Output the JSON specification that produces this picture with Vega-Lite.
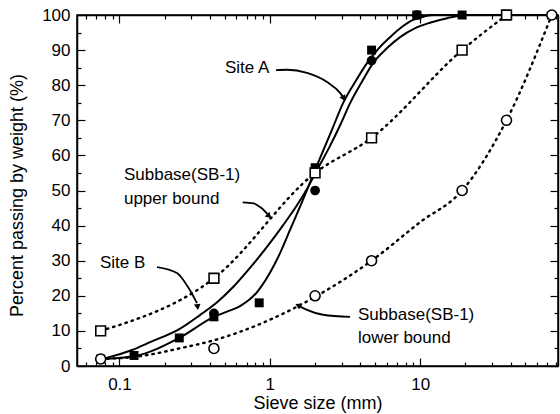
{
  "$schema": "https://vega.github.io/schema/vega-lite/v6.json",
  "width": 481,
  "height": 351,
  "autosize": {"type": "none"},
  "padding": {"left": 77, "top": 15, "right": 2, "bottom": 48},
  "background": "white",
  "config": {
    "view": {"stroke": "black", "strokeWidth": 1.5},
    "axis": {"domainColor": "black", "domainWidth": 1.5, "tickColor": "black", "tickWidth": 1.2, "labelColor": "black", "titleColor": "black", "labelFont": "Liberation Sans", "titleFont": "Liberation Sans", "labelFontSize": 17, "titleFontSize": 18, "titleFontWeight": "normal", "grid": false},
    "text": {"font": "Liberation Sans"}
  },
  "datasets": {
    "curves": [
      {"series": "Upper", "x": 0.075, "y": 10}, {"series": "Upper", "x": 0.425, "y": 25}, {"series": "Upper", "x": 2, "y": 55}, {"series": "Upper", "x": 4.75, "y": 65}, {"series": "Upper", "x": 19, "y": 90}, {"series": "Upper", "x": 37.5, "y": 100},
      {"series": "Lower", "x": 0.075, "y": 2}, {"series": "Lower", "x": 0.137, "y": 2.8}, {"series": "Lower", "x": 0.25, "y": 5}, {"series": "Lower", "x": 0.43, "y": 7.4}, {"series": "Lower", "x": 0.98, "y": 13}, {"series": "Lower", "x": 2, "y": 19.7}, {"series": "Lower", "x": 4.75, "y": 30}, {"series": "Lower", "x": 10, "y": 41}, {"series": "Lower", "x": 19, "y": 50}, {"series": "Lower", "x": 37.5, "y": 70}, {"series": "Lower", "x": 75, "y": 100},
      {"series": "Site A", "x": 0.075, "y": 2}, {"series": "Site A", "x": 0.125, "y": 2.8}, {"series": "Site A", "x": 0.25, "y": 8}, {"series": "Site A", "x": 0.425, "y": 14}, {"series": "Site A", "x": 0.52, "y": 15.5}, {"series": "Site A", "x": 0.63, "y": 17}, {"series": "Site A", "x": 0.82, "y": 21}, {"series": "Site A", "x": 1.0, "y": 26.5}, {"series": "Site A", "x": 1.18, "y": 32.5}, {"series": "Site A", "x": 1.36, "y": 38.7}, {"series": "Site A", "x": 1.66, "y": 47.3}, {"series": "Site A", "x": 1.9, "y": 53.5}, {"series": "Site A", "x": 2.22, "y": 60.5}, {"series": "Site A", "x": 2.6, "y": 67.5}, {"series": "Site A", "x": 3.07, "y": 74.9}, {"series": "Site A", "x": 3.7, "y": 81}, {"series": "Site A", "x": 4.43, "y": 86.3}, {"series": "Site A", "x": 5.3, "y": 90.5}, {"series": "Site A", "x": 6.31, "y": 93.7}, {"series": "Site A", "x": 7.5, "y": 96.5}, {"series": "Site A", "x": 8.97, "y": 98.6}, {"series": "Site A", "x": 10.5, "y": 99.5}, {"series": "Site A", "x": 12.2, "y": 100}, {"series": "Site A", "x": 82.5, "y": 100},
      {"series": "Site B", "x": 0.075, "y": 2}, {"series": "Site B", "x": 0.0865, "y": 2.6}, {"series": "Site B", "x": 0.12, "y": 4.5}, {"series": "Site B", "x": 0.16, "y": 6.8}, {"series": "Site B", "x": 0.25, "y": 10.5}, {"series": "Site B", "x": 0.343, "y": 14.5}, {"series": "Site B", "x": 0.45, "y": 18.3}, {"series": "Site B", "x": 0.57, "y": 22.5}, {"series": "Site B", "x": 0.75, "y": 28.3}, {"series": "Site B", "x": 0.96, "y": 34}, {"series": "Site B", "x": 1.22, "y": 40}, {"series": "Site B", "x": 1.5, "y": 45.5}, {"series": "Site B", "x": 1.77, "y": 50.5}, {"series": "Site B", "x": 2.1, "y": 56.5}, {"series": "Site B", "x": 2.5, "y": 62.5}, {"series": "Site B", "x": 2.95, "y": 68.8}, {"series": "Site B", "x": 3.42, "y": 74.9}, {"series": "Site B", "x": 4.1, "y": 81}, {"series": "Site B", "x": 4.86, "y": 86.3}, {"series": "Site B", "x": 6, "y": 90.5}, {"series": "Site B", "x": 7.35, "y": 93.7}, {"series": "Site B", "x": 9.2, "y": 96.2}, {"series": "Site B", "x": 11.6, "y": 97.8}, {"series": "Site B", "x": 15.1, "y": 99.1}, {"series": "Site B", "x": 20.5, "y": 100}, {"series": "Site B", "x": 82.5, "y": 100}
    ],
    "points": [
      {"series": "Site A", "x": 0.075, "y": 2}, {"series": "Site A", "x": 0.125, "y": 3}, {"series": "Site A", "x": 0.25, "y": 8}, {"series": "Site A", "x": 0.425, "y": 14}, {"series": "Site A", "x": 0.85, "y": 18}, {"series": "Site A", "x": 2, "y": 56.5}, {"series": "Site A", "x": 4.75, "y": 90}, {"series": "Site A", "x": 9.5, "y": 100}, {"series": "Site A", "x": 19, "y": 100},
      {"series": "Site B", "x": 0.075, "y": 2}, {"series": "Site B", "x": 0.425, "y": 15}, {"series": "Site B", "x": 2, "y": 50}, {"series": "Site B", "x": 4.75, "y": 87}, {"series": "Site B", "x": 9.5, "y": 100},
      {"series": "Upper", "x": 0.075, "y": 10}, {"series": "Upper", "x": 0.425, "y": 25}, {"series": "Upper", "x": 2, "y": 55}, {"series": "Upper", "x": 4.75, "y": 65}, {"series": "Upper", "x": 19, "y": 90}, {"series": "Upper", "x": 37.5, "y": 100},
      {"series": "Lower", "x": 0.075, "y": 2}, {"series": "Lower", "x": 0.425, "y": 5}, {"series": "Lower", "x": 2, "y": 20}, {"series": "Lower", "x": 4.75, "y": 30}, {"series": "Lower", "x": 19, "y": 50}, {"series": "Lower", "x": 37.5, "y": 70}, {"series": "Lower", "x": 75, "y": 100}
    ],
    "arrows": [
      {"arrow": "A", "x": 1.1, "y": 84.3}, {"arrow": "A", "x": 1.3, "y": 84.4}, {"arrow": "A", "x": 1.768, "y": 83.5}, {"arrow": "A", "x": 2.402, "y": 80.9}, {"arrow": "A", "x": 2.93, "y": 77.8}, {"arrow": "A", "x": 3.08, "y": 76.5},
      {"arrow": "U", "x": 0.66, "y": 46.6}, {"arrow": "U", "x": 0.78, "y": 46.3}, {"arrow": "U", "x": 0.88, "y": 45.0}, {"arrow": "U", "x": 0.97, "y": 43.2},
      {"arrow": "B", "x": 0.1776, "y": 28.2}, {"arrow": "B", "x": 0.2413, "y": 26.5}, {"arrow": "B", "x": 0.2856, "y": 22.5}, {"arrow": "B", "x": 0.3279, "y": 17.9},
      {"arrow": "L", "x": 1.58, "y": 17.0}, {"arrow": "L", "x": 1.768, "y": 16.0}, {"arrow": "L", "x": 2.259, "y": 14.6}, {"arrow": "L", "x": 3.417, "y": 14.0}
    ],
    "heads": [
      {"arrow": "A", "x": 3.1, "y": 76.2},
      {"arrow": "U", "x": 0.99, "y": 42.7},
      {"arrow": "B", "x": 0.331, "y": 16.8},
      {"arrow": "L", "x": 1.54, "y": 17.3}
    ],
    "labels": [
      {"x": 0.503, "y": 84.9, "text": "Site A"},
      {"x": 0.1071, "y": 54.4, "text": "Subbase(SB-1)"},
      {"x": 0.1071, "y": 47.6, "text": "upper bound"},
      {"x": 0.0742, "y": 29.3, "text": "Site B"},
      {"x": 3.86, "y": 14.5, "text": "Subbase(SB-1)"},
      {"x": 3.86, "y": 8.0, "text": "lower bound"}
    ]
  },
  "layer": [
    {
      "encoding": {
        "x": {
          "field": "x", "type": "quantitative",
          "scale": {"type": "log", "domain": [0.0522, 82.5], "nice": false},
          "axis": {
            "title": "Sieve size (mm)",
            "values": [0.06,0.07,0.08,0.09,0.1,0.2,0.3,0.4,0.5,0.6,0.7,0.8,0.9,1,2,3,4,5,6,7,8,9,10,20,30,40,50,60,70,80],
            "labelExpr": "datum.value == 0.1 ? '0.1' : datum.value == 1 ? '1' : datum.value == 10 ? '10' : ''",
            "tickSize": {"condition": {"test": "datum.value == 0.1 || datum.value == 1 || datum.value == 10", "value": -8}, "value": -4},
            "labelPadding": 18,
            "labelFlush": false,
            "labelOverlap": false,
            "titleY": 42,
            "titleBaseline": "alphabetic"
          }
        },
        "y": {
          "field": "y", "type": "quantitative",
          "scale": {"domain": [0, 100], "nice": false, "zero": false},
          "axis": {
            "title": "Percent passing by weight (%)",
            "values": [0,5,10,15,20,25,30,35,40,45,50,55,60,65,70,75,80,85,90,95,100],
            "labelExpr": "datum.value % 10 == 0 ? datum.label : ''",
            "tickSize": {"condition": {"test": "datum.value % 10 == 0", "value": -8}, "value": -4},
            "labelPadding": 15,
            "labelOverlap": false,
            "titleX": -60,
            "titleY": 180,
            "titleBaseline": "middle"
          }
        }
      },
      "layer": [
        {
          "data": {"name": "curves"},
          "transform": [{"filter": "datum.series == 'Upper' || datum.series == 'Lower'"}],
          "mark": {"type": "line", "interpolate": "monotone", "strokeDash": [1.5, 5], "strokeWidth": 2.4, "strokeCap": "round", "color": "black"},
          "encoding": {"detail": {"field": "series"}}
        },
        {
          "data": {"name": "curves"},
          "transform": [{"filter": "datum.series == 'Site A' || datum.series == 'Site B'"}],
          "mark": {"type": "line", "interpolate": "monotone", "strokeWidth": 2, "color": "black"},
          "encoding": {"detail": {"field": "series"}}
        },
        {
          "data": {"name": "arrows"},
          "mark": {"type": "line", "interpolate": "monotone", "strokeWidth": 1.8, "color": "black"},
          "encoding": {"detail": {"field": "arrow"}}
        },
        {
          "data": {"name": "heads"},
          "transform": [{"filter": "datum.arrow == 'A'"}],
          "mark": {"type": "point", "shape": "triangle-up", "filled": true, "size": 45, "color": "black", "opacity": 1, "angle": 151}
        },
        {
          "data": {"name": "heads"},
          "transform": [{"filter": "datum.arrow == 'U'"}],
          "mark": {"type": "point", "shape": "triangle-up", "filled": true, "size": 45, "color": "black", "opacity": 1, "angle": 135}
        },
        {
          "data": {"name": "heads"},
          "transform": [{"filter": "datum.arrow == 'B'"}],
          "mark": {"type": "point", "shape": "triangle-up", "filled": true, "size": 45, "color": "black", "opacity": 1, "angle": 172}
        },
        {
          "data": {"name": "heads"},
          "transform": [{"filter": "datum.arrow == 'L'"}],
          "mark": {"type": "point", "shape": "triangle-up", "filled": true, "size": 45, "color": "black", "opacity": 1, "angle": 297}
        },
        {
          "data": {"name": "points"},
          "transform": [{"filter": "datum.series == 'Site A'"}],
          "mark": {"type": "point", "shape": "square", "filled": true, "size": 80, "color": "black", "opacity": 1}
        },
        {
          "data": {"name": "points"},
          "transform": [{"filter": "datum.series == 'Site B'"}],
          "mark": {"type": "point", "shape": "circle", "filled": true, "size": 95, "color": "black", "opacity": 1}
        },
        {
          "data": {"name": "points"},
          "transform": [{"filter": "datum.series == 'Upper'"}],
          "mark": {"type": "point", "shape": "square", "size": 95, "fill": "white", "fillOpacity": 1, "stroke": "black", "strokeWidth": 1.6, "opacity": 1}
        },
        {
          "data": {"name": "points"},
          "transform": [{"filter": "datum.series == 'Lower'"}],
          "mark": {"type": "point", "shape": "circle", "size": 100, "fill": "white", "fillOpacity": 1, "stroke": "black", "strokeWidth": 1.6, "opacity": 1}
        },
        {
          "data": {"name": "labels"},
          "mark": {"type": "text", "align": "left", "baseline": "middle", "fontSize": 17, "font": "Liberation Sans", "color": "black"},
          "encoding": {"text": {"field": "text"}}
        }
      ]
    },
    {
      "data": {"name": "points"},
      "mark": {"type": "point", "opacity": 0},
      "encoding": {
        "x": {
          "field": "x", "type": "quantitative",
          "scale": {"type": "log", "domain": [0.0522, 82.5], "nice": false},
          "axis": {
            "orient": "top", "title": null, "labels": false,
            "values": [0.06,0.07,0.08,0.09,0.1,0.2,0.3,0.4,0.5,0.6,0.7,0.8,0.9,1,2,3,4,5,6,7,8,9,10,20,30,40,50,60,70,80],
            "tickSize": {"condition": {"test": "datum.value == 0.1 || datum.value == 1 || datum.value == 10", "value": -8}, "value": -4}
          }
        },
        "y": {
          "field": "y", "type": "quantitative",
          "scale": {"domain": [0, 100], "nice": false, "zero": false},
          "axis": {
            "orient": "right", "title": null, "labels": false,
            "values": [0,5,10,15,20,25,30,35,40,45,50,55,60,65,70,75,80,85,90,95,100],
            "tickSize": {"condition": {"test": "datum.value % 10 == 0", "value": -8}, "value": -4}
          }
        }
      }
    }
  ],
  "resolve": {"axis": {"x": "independent", "y": "independent"}}
}
